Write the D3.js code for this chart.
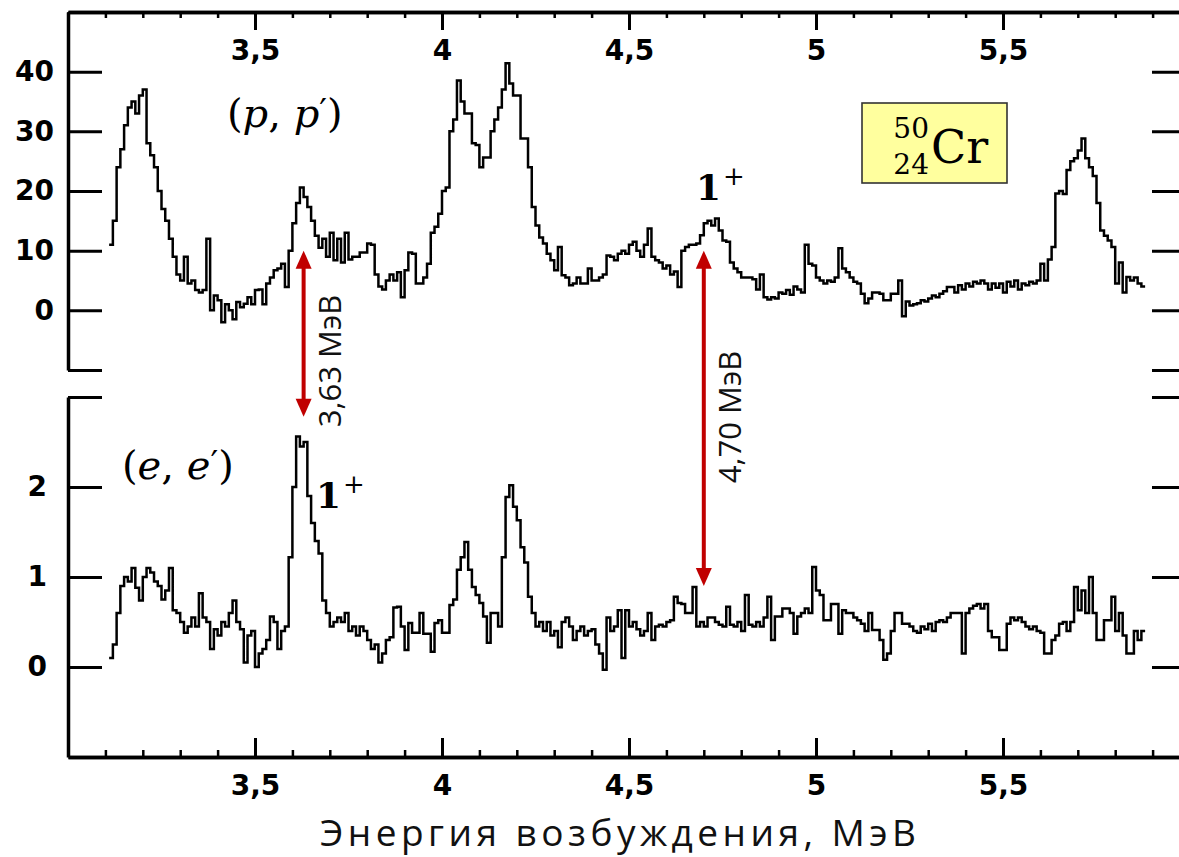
<!DOCTYPE html>
<html>
<head>
<meta charset="utf-8">
<script src="https://cdn.jsdelivr.net/npm/d3@7"></script>
<style>
  body { margin: 0; background: #fff; }
  svg { display: block; }
</style>
</head>
<body>
<svg id="chart" width="1179" height="857"></svg>
<script>
// Histogram binning of both spectra (excitation energy, MeV)
const binStart = 3.11;
const binWidth = 0.01;

// (p,p') spectrum, counts per bin
const ppCounts = [
  11, 15, 24, 27, 31, 34, 35, 33, 36, 37,
  28, 26, 24, 20, 17, 15, 12, 9, 6, 5,
  9, 4.5, 5, 3.4, 3, 3.4, 12, 0, 2.5, 1.7,
  -2, 1, 0, -1.5, 1.4, 0.5, 1.1, 2.2, 1, 3.4,
  3.5, 1, 4.5, 5.5, 6.7, 7, 7.8, 3.9, 10, 14.6,
  18, 20.6, 19, 17.3, 15, 12.5, 10.5, 12, 9, 13,
  8.4, 12, 8, 13, 8.5, 9, 9, 9.7, 9.7, 11.2,
  11, 6, 4, 3.5, 5, 6, 5, 6.4, 2.2, 6.7,
  9.7, 9.5, 4.5, 4.5, 5.5, 7.8, 13, 14, 16.2, 20,
  20.6, 30, 32, 38.5, 35, 33, 33, 28, 27.7, 24,
  25.6, 25.6, 30, 32, 34, 37, 41.4, 38, 36, 36,
  28.8, 28.8, 24, 17.3, 14.2, 12.2, 11.2, 9.5, 8.4, 6.7,
  10.6, 5.9, 5.5, 4.2, 4.5, 5.5, 4.5, 4.5, 7, 5,
  5, 5.5, 6, 9.2, 9, 8.4, 9.5, 10, 9.5, 11,
  11.5, 10, 9, 11, 13.7, 9, 8.4, 8, 7, 7.5,
  6, 6.5, 3.9, 10, 10.6, 11, 11, 11.2, 12.6, 14.6,
  15, 14.2, 15.4, 13.4, 11.7, 11.5, 8, 7, 6.4, 5.5,
  5.5, 5.5, 5.2, 3.5, 6, 2.2, 1.8, 2.2, 2, 3,
  2.8, 3.4, 2.6, 4, 3.5, 3, 11, 7.8, 7.5, 5.5,
  5, 4.5, 5, 4.8, 5.5, 10.4, 7, 6.4, 5.5, 4.8,
  4.5, 2.8, 1.2, 2, 3, 3, 2.8, 1.7, 1.7, 2.8,
  2.8, 5, -1, 1.5, 0.8, 1, 1.2, 1.7, 1.5, 2,
  2.5, 2.2, 2.8, 3.2, 3.9, 3.9, 3, 4.2, 3.5, 4.5,
  4, 4.8, 4.5, 5, 4.5, 3.5, 4.5, 3.8, 4.5, 3,
  4.8, 4, 5, 3.5, 4.5, 4.2, 4.8, 4.5, 5, 7.8,
  5, 8.5, 10.6, 19.6, 20, 19.5, 23.5, 25, 25.5, 26.8,
  28.8, 25.5, 24, 22.5, 18, 13.4, 12.5, 11.7, 10.6, 4.5,
  8, 3, 5.6, 5, 5.5, 4.5, 4
];

// (e,e') spectrum, counts per bin
const eeCounts = [
  0.1, 0.25, 0.6, 0.9, 1.0, 0.95, 1.1, 0.88, 0.74, 1.0,
  1.1, 1.05, 0.95, 0.9, 0.75, 0.85, 1.1, 0.63, 0.6, 0.5,
  0.38, 0.45, 0.55, 0.45, 0.82, 0.55, 0.5, 0.2, 0.42, 0.35,
  0.5, 0.45, 0.6, 0.74, 0.5, 0.42, 0.05, 0.35, 0.4, 0.0,
  0.15, 0.2, 0.3, 0.56, 0.5, 0.2, 0.4, 0.45, 1.22, 2.0,
  2.56, 2.45, 2.5, 1.9, 1.6, 1.4, 1.26, 0.74, 0.6, 0.45,
  0.5, 0.55, 0.5, 0.6, 0.4, 0.45, 0.35, 0.45, 0.4, 0.3,
  0.2, 0.25, 0.05, 0.15, 0.3, 0.33, 0.66, 0.67, 0.45, 0.19,
  0.49, 0.38, 0.38, 0.6, 0.37, 0.37, 0.17, 0.49, 0.52, 0.38,
  0.38, 0.69, 0.75, 1.08, 1.22, 1.39, 1.08, 0.89, 0.8, 0.71,
  0.56, 0.27, 0.6, 0.6, 0.45, 1.22, 1.89, 2.02, 1.78, 1.63,
  1.33, 1.16, 0.78, 0.6, 0.45, 0.5, 0.4, 0.5, 0.35, 0.4,
  0.22, 0.5, 0.55, 0.45, 0.3, 0.4, 0.45, 0.35, 0.4, 0.42,
  0.25, 0.15, -0.03, 0.55, 0.4, 0.45, 0.63, 0.1, 0.63, 0.45,
  0.5, 0.42, 0.35, 0.4, 0.6, 0.3, 0.45, 0.47, 0.45, 0.5,
  0.52, 0.78, 0.71, 0.7, 0.6, 0.6, 0.89, 0.45, 0.5, 0.45,
  0.55, 0.55, 0.5, 0.47, 0.45, 0.67, 0.47, 0.45, 0.5, 0.4,
  0.8, 0.47, 0.45, 0.5, 0.45, 0.55, 0.78, 0.3, 0.56, 0.56,
  0.65, 0.65, 0.6, 0.37, 0.56, 0.6, 0.65, 0.6, 1.11, 0.85,
  0.8, 0.52, 0.52, 0.7, 0.7, 0.37, 0.63, 0.6, 0.6, 0.55,
  0.52, 0.48, 0.4, 0.6, 0.41, 0.41, 0.3, 0.08, 0.15, 0.4,
  0.6, 0.6, 0.48, 0.48, 0.45, 0.4, 0.38, 0.45, 0.42, 0.48,
  0.4, 0.5, 0.52, 0.5, 0.55, 0.6, 0.6, 0.6, 0.15, 0.6,
  0.65, 0.68, 0.7, 0.65, 0.7, 0.4, 0.33, 0.33, 0.19, 0.19,
  0.48, 0.55, 0.52, 0.55, 0.5, 0.45, 0.42, 0.45, 0.4, 0.38,
  0.15, 0.15, 0.3, 0.35, 0.48, 0.5, 0.4, 0.5, 0.89, 0.63,
  0.85, 0.6, 1.0, 0.6, 0.3, 0.3, 0.52, 0.52, 0.78, 0.4,
  0.6, 0.35, 0.15, 0.15, 0.4, 0.3, 0.4
];

// Axis ticks
const energyMajorTicks = [3.5, 4, 4.5, 5, 5.5];
const ppTicks = [-10, 0, 10, 20, 30, 40];
const ppTickLabels = ["", "0", "10", "20", "30", "40"];
const eeTicks = [0, 1, 2, 3];
const eeTickLabels = ["0", "1", "2", ""];

// M1 (1+) transitions marked in both spectra
const transitionEnergies = [3.63, 4.70];
const transitionLabels = ["3,63 МэВ", "4,70 МэВ"];
const transitionPpLevel = [10, 10];     // arrow tip in the (p,p') panel
const transitionEeLevel = [2.78, 0.9];  // arrow tip in the (e,e') panel

const xAxisTitle = "Энергия  возбуждения, МэВ";

// ---------------------------------------------------------------
const svg = d3.select("#chart");
const left = 68, frameRight = 1190;
const ppTop = 12, ppBottom = 370;
const eeTop = 397, eeBottom = 757;

const x = d3.scaleLinear().domain([3.0, 6.0]).range([left, frameRight]);
const yPP = d3.scaleLinear().domain([-10, 50]).range([ppBottom, ppTop]);
const yEE = d3.scaleLinear().domain([-1, 3]).range([eeBottom, eeTop]);

const fmtEnergy = d => String(d).replace(".", ",");
const minorTicks = x.ticks(30).filter(t => !energyMajorTicks.some(m => Math.abs(m - t) < 1e-6));

const tickFont = "'DejaVu Sans', Verdana, sans-serif";

function styleAxis(g, lineWidth, tickWidth) {
  g.select(".domain").attr("stroke", "#000").attr("stroke-width", lineWidth);
  g.selectAll(".tick line").attr("stroke", "#000").attr("stroke-width", tickWidth);
  g.selectAll(".tick text")
    .attr("fill", "#000")
    .style("font-family", tickFont)
    .style("font-weight", "bold")
    .style("font-size", "28px");
}

// Top energy axis (labels sit inside the frame, below the line)
const topMinor = svg.append("g").attr("transform", `translate(0,${ppTop})`)
  .call(d3.axisBottom(x).tickValues(minorTicks).tickSize(6).tickSizeOuter(0).tickFormat(""));
styleAxis(topMinor, 3.5, 2.5);
const topMajor = svg.append("g").attr("transform", `translate(0,${ppTop})`)
  .call(d3.axisBottom(x).tickValues(energyMajorTicks).tickSize(18).tickSizeOuter(0)
    .tickPadding(10).tickFormat(fmtEnergy));
styleAxis(topMajor, 3.5, 3);

// Bottom energy axis (ticks point up into the panel)
const botMinor = svg.append("g").attr("transform", `translate(0,${eeBottom})`)
  .call(d3.axisBottom(x).tickValues(minorTicks).tickSize(-7).tickSizeOuter(0).tickFormat(""));
styleAxis(botMinor, 3.5, 2.5);
const botMajor = svg.append("g").attr("transform", `translate(0,${eeBottom})`)
  .call(d3.axisBottom(x).tickValues(energyMajorTicks).tickSize(-19).tickSizeOuter(0)
    .tickPadding(18).tickFormat(fmtEnergy));
styleAxis(botMajor, 3.5, 3);

// Left count axes
const ppLeft = svg.append("g").attr("transform", `translate(${left},0)`)
  .call(d3.axisLeft(yPP).tickValues(ppTicks).tickSizeInner(-34).tickSizeOuter(0)
    .tickPadding(14).tickFormat((d, i) => ppTickLabels[i]));
styleAxis(ppLeft, 3.5, 3);
const eeLeft = svg.append("g").attr("transform", `translate(${left},0)`)
  .call(d3.axisLeft(yEE).tickValues(eeTicks).tickSizeInner(-34).tickSizeOuter(0)
    .tickPadding(21).tickFormat((d, i) => eeTickLabels[i]));
styleAxis(eeLeft, 3.5, 3);

// Right count axes (frame edge just outside the view)
const ppRight = svg.append("g").attr("transform", `translate(${frameRight - 4},0)`)
  .call(d3.axisRight(yPP).tickValues(ppTicks).tickSizeInner(-34).tickSizeOuter(0).tickFormat(""));
styleAxis(ppRight, 3.5, 3);
const eeRight = svg.append("g").attr("transform", `translate(${frameRight - 4},0)`)
  .call(d3.axisRight(yEE).tickValues(eeTicks).tickSizeInner(-34).tickSizeOuter(0).tickFormat(""));
styleAxis(eeRight, 3.5, 3);

// Step histograms
function stepPoints(values) {
  const pts = values.map((v, i) => [binStart + i * binWidth, v]);
  pts.push([binStart + values.length * binWidth, values[values.length - 1]]);
  return pts;
}
function drawSpectrum(values, yScale) {
  const line = d3.line()
    .x(d => x(d[0]))
    .y(d => yScale(d[1]))
    .curve(d3.curveStepAfter);
  svg.append("path")
    .attr("d", line(stepPoints(values)))
    .attr("fill", "none")
    .attr("stroke", "#000")
    .attr("stroke-width", 2.5)
    .attr("stroke-linejoin", "miter");
}
drawSpectrum(ppCounts, yPP);
drawSpectrum(eeCounts, yEE);

// Reaction labels
const mathFont = "'DejaVu Serif', 'Liberation Serif', serif";
function reactionLabel(px, py, particle) {
  const t = svg.append("text").attr("x", px).attr("y", py)
    .style("font-family", mathFont).style("font-size", "40px").attr("fill", "#000");
  t.append("tspan").text("(");
  t.append("tspan").style("font-style", "italic").text(particle);
  t.append("tspan").text(", ");
  t.append("tspan").style("font-style", "italic").text(particle);
  t.append("tspan").attr("dy", -4).style("font-size", "34px").text("\u2032");
  t.append("tspan").attr("dy", 4).text(")");
}
reactionLabel(227, 127, "p");
reactionLabel(122, 479, "e");

// Spin-parity labels
function spinLabel(px, py) {
  const t = svg.append("text").attr("x", px).attr("y", py)
    .style("font-family", mathFont).attr("fill", "#000");
  t.append("tspan").style("font-size", "36px").style("font-weight", "bold").text("1");
  t.append("tspan").attr("dy", -15).attr("dx", 2).style("font-size", "26px").text("+");
}
spinLabel(696, 200);
spinLabel(316, 508);

// Nucleus box
const box = svg.append("g");
box.append("rect").attr("x", 862).attr("y", 103).attr("width", 145).attr("height", 80)
  .attr("fill", "#ffff9e").attr("stroke", "#333").attr("stroke-width", 1.6);
box.append("text").attr("x", 929).attr("y", 138).attr("text-anchor", "end")
  .style("font-family", mathFont).style("font-size", "28px").text("50");
box.append("text").attr("x", 929).attr("y", 174).attr("text-anchor", "end")
  .style("font-family", mathFont).style("font-size", "28px").text("24");
box.append("text").attr("x", 931).attr("y", 163)
  .style("font-family", mathFont).style("font-size", "46px").text("Cr");

// Double-headed arrows linking the two spectra
const arrowColor = "#c00000";
const headLen = 18, headHalf = 8;
transitionEnergies.forEach((e, i) => {
  const ax = x(e);
  const yTop = yPP(transitionPpLevel[i]);
  const yBot = yEE(transitionEeLevel[i]);
  const g = svg.append("g");
  g.append("line").attr("x1", ax).attr("x2", ax)
    .attr("y1", yTop + headLen - 1).attr("y2", yBot - headLen + 1)
    .attr("stroke", arrowColor).attr("stroke-width", 4);
  g.append("path")
    .attr("d", `M${ax},${yTop} L${ax - headHalf},${yTop + headLen} L${ax + headHalf},${yTop + headLen} Z`)
    .attr("fill", arrowColor);
  g.append("path")
    .attr("d", `M${ax},${yBot} L${ax - headHalf},${yBot - headLen} L${ax + headHalf},${yBot - headLen} Z`)
    .attr("fill", arrowColor);
  const midY = i === 0 ? 361 : 417;
  g.append("text")
    .attr("transform", `translate(${ax + 37},${midY}) rotate(-90)`)
    .attr("text-anchor", "middle")
    .style("font-family", "'Open Sans', 'Noto Sans', sans-serif")
    .style("font-size", "31px")
    .attr("fill", "#111")
    .text(transitionLabels[i]);
});

// Energy axis title
svg.append("text")
  .attr("x", 320).attr("y", 846)
  .attr("textLength", 596).attr("lengthAdjust", "spacing")
  .style("font-family", "'Open Sans', 'Noto Sans', sans-serif")
  .style("font-size", "37px")
  .attr("fill", "#111")
  .text(xAxisTitle);
</script>
</body>
</html>
